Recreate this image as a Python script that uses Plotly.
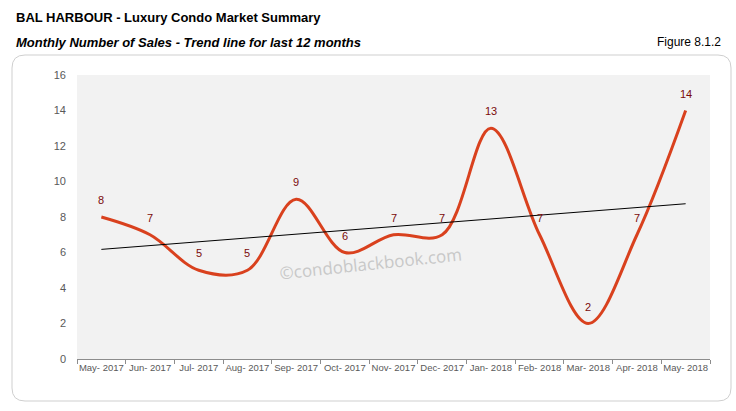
import numpy as np
import plotly.graph_objects as go

months = ["May- 2017", "Jun- 2017", "Jul- 2017", "Aug- 2017", "Sep- 2017", "Oct- 2017",
          "Nov- 2017", "Dec- 2017", "Jan- 2018", "Feb- 2018", "Mar- 2018", "Apr- 2018", "May- 2018"]
sales = [8, 7, 5, 5, 9, 6, 7, 7, 13, 7, 2, 7, 14]
y_ticks = [0, 2, 4, 6, 8, 10, 12, 14, 16]

W, H = 736, 411
L, R, T, B = 77, 710, 75, 359


def px(x):
    return (x - L) / (R - L)


def py(y):
    return (B - y) / (B - T)


idx = np.arange(len(sales))
slope, intercept = np.polyfit(idx, sales, 1)
trend = slope * idx + intercept

fig = go.Figure()
fig.add_trace(go.Scatter(x=months, y=sales, mode="lines", line=dict(color="#d9411e", width=3, shape="spline", smoothing=1.0),
                         hoverinfo="skip", showlegend=False))
fig.add_trace(go.Scatter(x=months, y=trend, mode="lines", line=dict(color="#000000", width=1),
                         hoverinfo="skip", showlegend=False))

annotations = []
for m, v in zip(months, sales):
    annotations.append(dict(x=m, y=v, xref="x", yref="y", text=str(v), showarrow=False, yshift=17,
                            font=dict(family="Liberation Sans, Arial", size=11, color="#7a0a0a")))

annotations += [
    dict(x=px(14), y=py(17), xref="paper", yref="paper", xanchor="left", yanchor="middle", showarrow=False,
         text="<b>BAL HARBOUR - Luxury Condo Market Summary</b>",
         font=dict(family="Liberation Sans, Arial", size=13, color="#000000")),
    dict(x=px(14), y=py(42), xref="paper", yref="paper", xanchor="left", yanchor="middle", showarrow=False,
         text="<b><i>Monthly Number of Sales - Trend line for last 12 months</i></b>",
         font=dict(family="Liberation Sans, Arial", size=13, color="#000000")),
    dict(x=px(723), y=py(42), xref="paper", yref="paper", xanchor="right", yanchor="middle", showarrow=False,
         text="Figure 8.1.2",
         font=dict(family="Liberation Sans, Arial", size=12, color="#000000")),
    dict(x=px(370), y=py(263), xref="paper", yref="paper", xanchor="center", yanchor="middle", showarrow=False,
         text="©condoblackbook.com", textangle=-6,
         font=dict(family="Open Sans, Liberation Sans", size=17, color="#c8c8c8")),
]

# rounded outer border
x0, x1, y0, y1, r = 12, 731, 55, 401, 13
path = (f"M {px(x0 + r)},{py(y0)} L {px(x1 - r)},{py(y0)} Q {px(x1)},{py(y0)} {px(x1)},{py(y0 + r)} "
        f"L {px(x1)},{py(y1 - r)} Q {px(x1)},{py(y1)} {px(x1 - r)},{py(y1)} "
        f"L {px(x0 + r)},{py(y1)} Q {px(x0)},{py(y1)} {px(x0)},{py(y1 - r)} "
        f"L {px(x0)},{py(y0 + r)} Q {px(x0)},{py(y0)} {px(x0 + r)},{py(y0)} Z")

fig.update_layout(
    width=W, height=H,
    margin=dict(l=L, r=W - R, t=T, b=H - B, pad=0),
    paper_bgcolor="#ffffff", plot_bgcolor="#f2f2f2",
    annotations=annotations,
    shapes=[dict(type="path", path=path, xref="paper", yref="paper", line=dict(color="#cfcfcf", width=1), layer="below")],
    xaxis=dict(type="category", tickvals=months, ticktext=months, tickangle=0, showgrid=False, zeroline=False,
               showline=True, linecolor="#8c8c8c", linewidth=1, ticks="outside", ticklen=4, tickcolor="#8c8c8c",
               tickson="boundaries", range=[-0.5, len(months) - 0.5], fixedrange=True,
               tickfont=dict(family="Liberation Sans, Arial", size=9.5, color="#595959")),
    yaxis=dict(range=[0, 16], tickvals=y_ticks, showgrid=False, zeroline=False, showline=False, ticks="",
               ticklabelstandoff=10, fixedrange=True,
               tickfont=dict(family="Liberation Sans, Arial", size=11, color="#595959")),
)

fig.write_html("out.html", config={"displayModeBar": False},
               post_script="document.body.style.margin='0';document.body.style.overflow='hidden';")
